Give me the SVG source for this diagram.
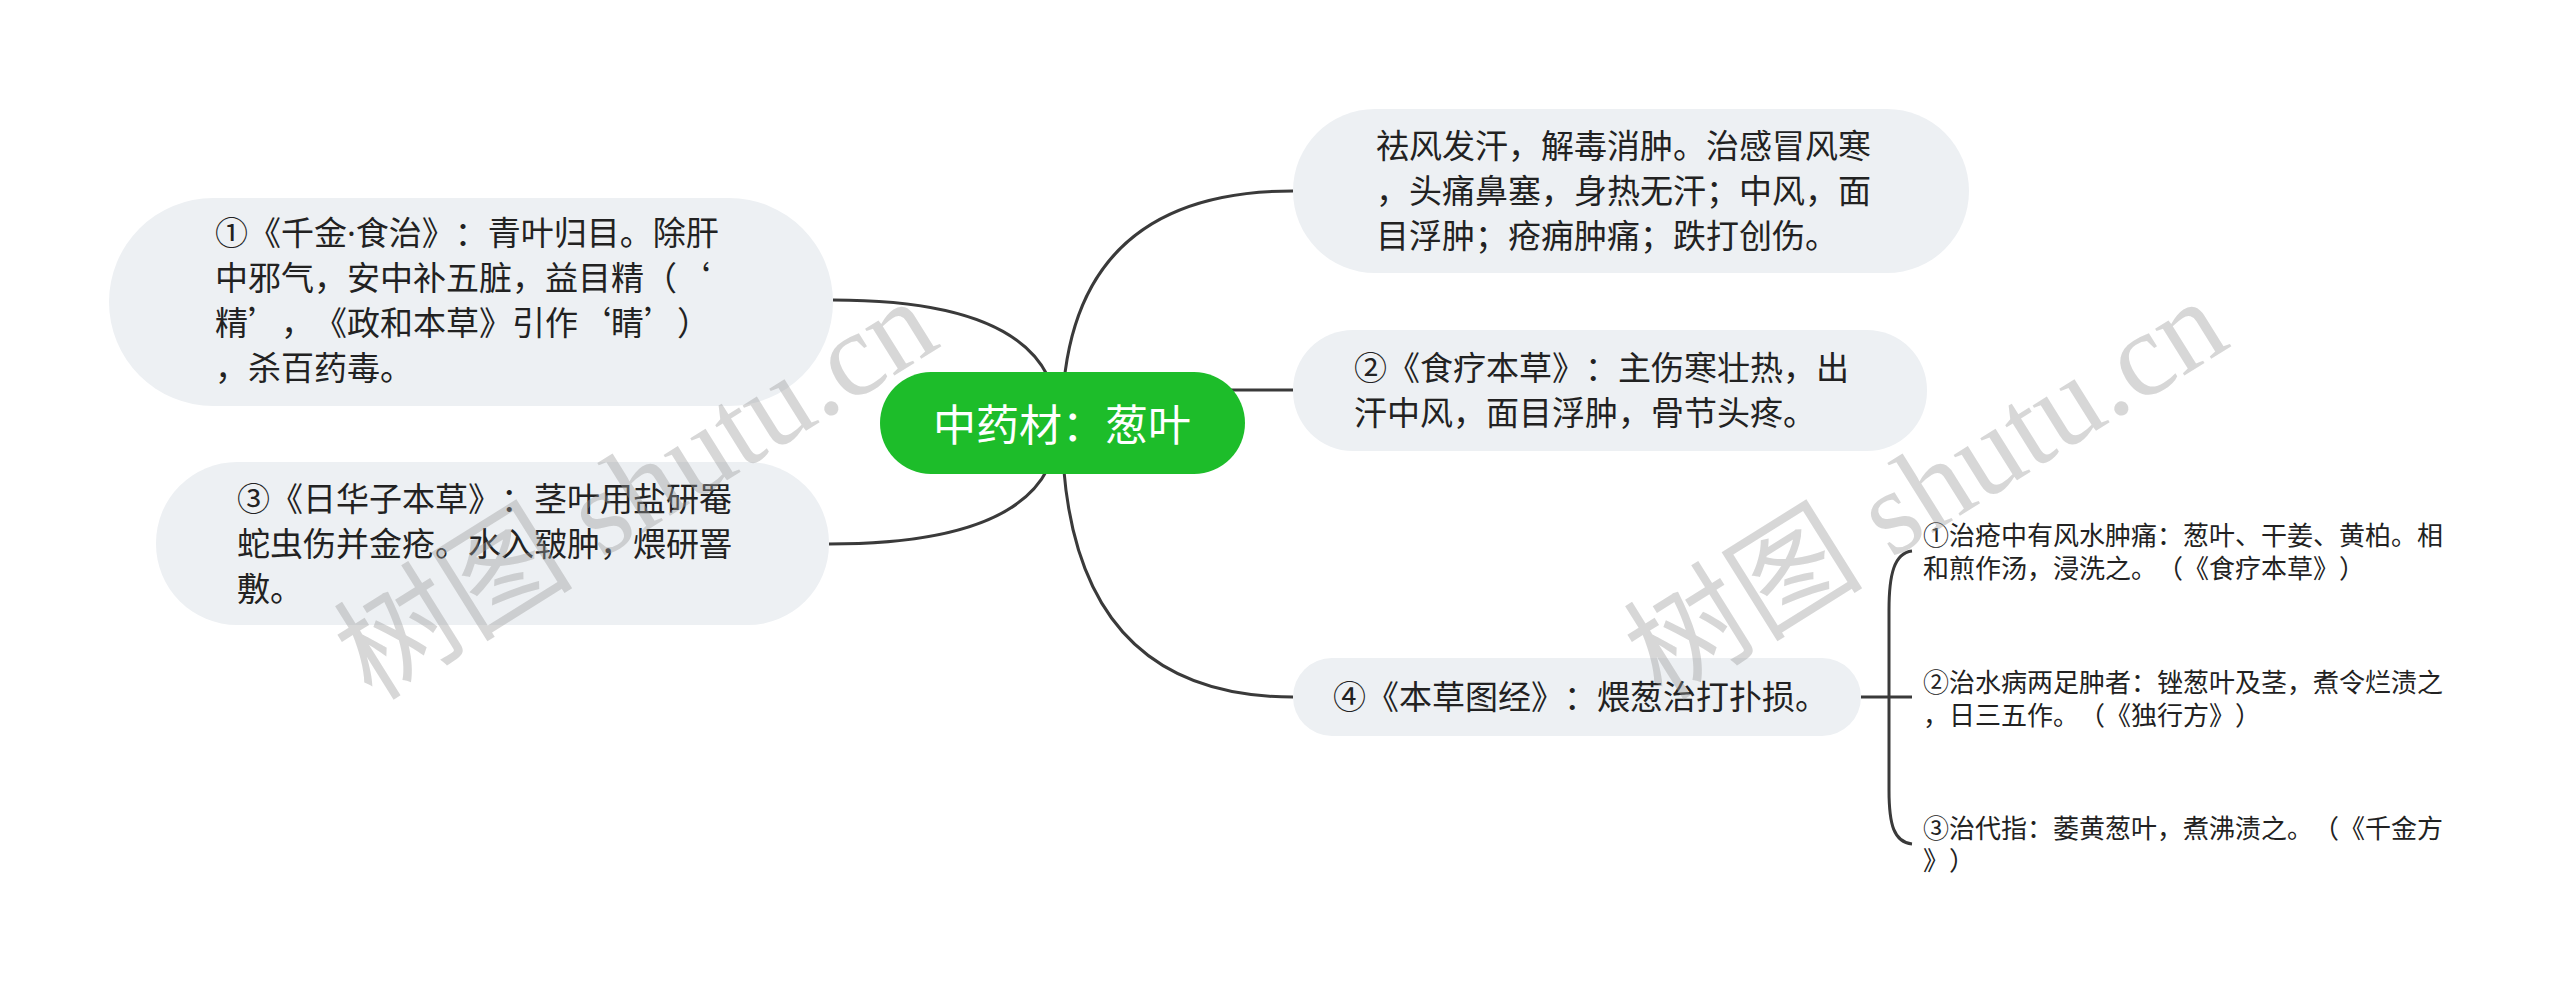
<svg xmlns="http://www.w3.org/2000/svg" width="2560" height="1000" viewBox="0 0 2560 1000">
<style>
.bg{fill:#ffffff}
.node{fill:#edf0f3}
.root{fill:#1dbd2a}
text{text-spacing-trim:space-all;font-kerning:none}
.t{font-family:"Noto Sans CJK SC","Noto Sans",sans-serif;font-size:33px;fill:#222222}
.s{font-family:"Noto Sans CJK SC","Noto Sans",sans-serif;font-size:26px;fill:#222222}
.rt{font-family:"Noto Sans CJK SC","Noto Sans",sans-serif;font-size:43px;fill:#ffffff}
.lat{font-family:"Noto Sans",sans-serif}
.c{fill:none;stroke:#3a3a3a;stroke-width:3}
.wm{font-family:"Liberation Serif","Noto Sans CJK SC",serif;font-size:120px;fill:#9a9a9a;fill-opacity:0.4}
</style>
<rect class="bg" x="0" y="0" width="2560" height="1000"/>
<g id="connectors">
<path class="c" d="M1062,423 Q1062,191 1293,191"/>
<path class="c" d="M1062,390 L1293,390"/>
<path class="c" d="M1062,423 Q1062,697 1293,697"/>
<path class="c" d="M1058,423 Q1058,300 833,300"/>
<path class="c" d="M1058,423 Q1058,544 829,544"/>
<path class="c" d="M1861,697 L1912,697"/>
<path class="c" d="M1912,551 C1894,553 1889,575 1889,610 L1889,790 C1889,825 1894,842 1912,844"/>
</g>
<g id="root">
<rect class="root" x="880" y="372" width="365" height="102" rx="51"/>
<text class="rt" x="1062" y="441" text-anchor="middle">中药材：葱叶</text>
</g>
<g id="node-a">
<rect class="node" x="1293" y="109" width="676" height="164" rx="82"/>
<text class="t"><tspan x="1376" y="158">祛风发汗，解毒消肿。治感冒风寒</tspan><tspan x="1376" y="203">，头痛鼻塞，身热无汗；中风，面</tspan><tspan x="1376" y="248">目浮肿；疮痈肿痛；跌打创伤。</tspan></text>
</g>
<g id="node-2">
<rect class="node" x="1293" y="330" width="634" height="121" rx="60"/>
<text class="t"><tspan x="1354" y="380">②《食疗本草》：主伤寒壮热，出</tspan><tspan x="1354" y="425">汗中风，面目浮肿，骨节头疼。</tspan></text>
</g>
<g id="node-4">
<rect class="node" x="1293" y="658" width="568" height="78" rx="39"/>
<text class="t" x="1333" y="709">④《本草图经》：煨葱治打扑损。</text>
</g>
<g id="node-1">
<rect class="node" x="109" y="198" width="724" height="208" rx="104"/>
<text class="t"><tspan x="215" y="245">①《千金<tspan class="lat">·</tspan>食治》：青叶归目。除肝</tspan><tspan x="215" y="290">中邪气，安中补五脏，益目精（‘</tspan><tspan x="215" y="335">精’，《政和本草》引作‘睛’）</tspan><tspan x="215" y="380">，杀百药毒。</tspan></text>
</g>
<g id="node-3">
<rect class="node" x="156" y="462" width="673" height="163" rx="81"/>
<text class="t"><tspan x="237" y="511">③《日华子本草》：茎叶用盐研罨</tspan><tspan x="237" y="556">蛇虫伤并金疮。水入皲肿，煨研罯</tspan><tspan x="237" y="601">敷。</tspan></text>
</g>
<g id="sub-1">
<text class="s"><tspan x="1923" y="545">①治疮中有风水肿痛：葱叶、干姜、黄柏。相</tspan><tspan x="1923" y="578">和煎作汤，浸洗之。（《食疗本草》）</tspan></text>
</g>
<g id="sub-2">
<text class="s"><tspan x="1923" y="692">②治水病两足肿者：锉葱叶及茎，煮令烂渍之</tspan><tspan x="1923" y="725">，日三五作。（《独行方》）</tspan></text>
</g>
<g id="sub-3">
<text class="s"><tspan x="1923" y="838">③治代指：萎黄葱叶，煮沸渍之。（《千金方</tspan><tspan x="1923" y="870">》）</tspan></text>
</g>
<g id="watermark">
<text class="wm" transform="translate(372,702) rotate(-32)">树图 shutu.cn</text>
<text class="wm" transform="translate(1662,702) rotate(-32)">树图 shutu.cn</text>
</g>
</svg>
